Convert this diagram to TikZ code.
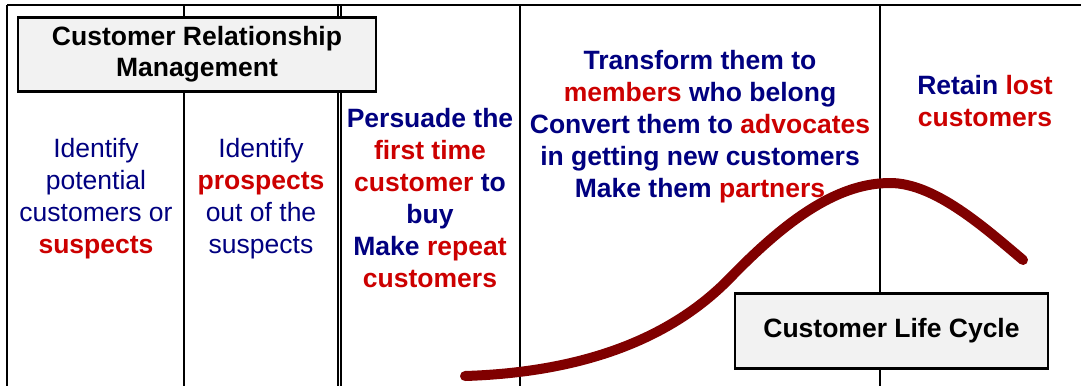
\documentclass[tikz,border=0pt]{standalone}
\usepackage{fontspec}
\setmainfont{Liberation Sans}
\definecolor{crmnavy}{RGB}{0,0,128}
\definecolor{crmred}{RGB}{204,0,0}
\definecolor{crmcurve}{RGB}{128,0,0}
\definecolor{crmgray}{RGB}{242,242,242}
\newcommand{\kw}[1]{\textcolor{crmred}{\textbf{#1}}}
\newcommand{\kr}[1]{\textcolor{crmred}{#1}}

\begin{document}
\begin{tikzpicture}[x=1pt,y=-1pt,
  colbox/.style={align=center,text=crmnavy,inner sep=0pt,font=\fontsize{26.5}{32}\selectfont},
  titlebox/.style={draw=black,line width=2.4pt,fill=crmgray,align=center,inner sep=0pt,font=\fontsize{26.5}{31}\selectfont\bfseries},
  grid/.style={line width=1.6pt}]
\useasboundingbox (0,0) rectangle (1081,386);
% column rules
\draw[grid] (7,5) -- (1081,5);
\foreach \x in {7,184,338,341,520,880}
  \draw[grid] (\x,5) -- (\x,386);
% life cycle curve
\draw[crmcurve,line width=10pt,line cap=round] (465,376)
  .. controls (560,373) and (660,350) .. (730,278)
  .. controls (790,216) and (840,183) .. (890,183)
  .. controls (935,183) and (985,228) .. (1023,260);
% headings
\node[titlebox,minimum width=358,minimum height=74] (crm_t) at (197,54.5) {Customer Relationship\\Management};
\node[titlebox,minimum width=313,minimum height=75] (clc_t) at (891.5,331) {Customer Life Cycle};
% column texts
\node[colbox] (col_a) at (96,199) {Identify\\potential\\customers or\\\kw{suspects}};
\node[colbox] (col_b) at (261,199) {Identify\\\kw{prospects}\\out of the\\suspects};
\node[colbox,font=\fontsize{26.5}{32}\selectfont\bfseries] (col_c) at (430,198) {Persuade the\\\kr{first time}\\\kr{customer} to\\buy\\Make \kr{repeat}\\\kr{customers}};
\node[colbox,font=\fontsize{26.5}{32}\selectfont\bfseries] (col_d) at (700,127) {Transform them to\\\kr{members} who belong\\Convert them to \kr{advocates}\\in getting new customers\\Make them \kr{partners}};
\node[colbox,font=\fontsize{26.5}{32}\selectfont\bfseries] (col_e) at (985,101.5) {Retain \kr{lost}\\\kr{customers}};
\end{tikzpicture}
\end{document}
